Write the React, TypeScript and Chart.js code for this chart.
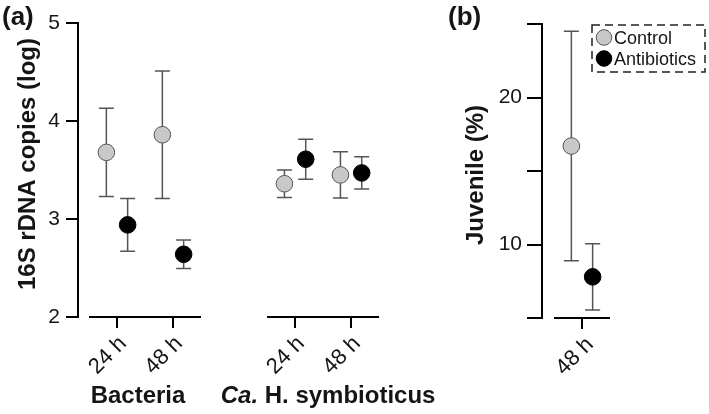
import React, { useEffect, useRef } from 'react';
import { Chart, registerables } from 'chart.js';

Chart.register(...registerables);

const FONT = "'Liberation Sans', Arial, Helvetica, sans-serif";

// ---------- data: panel (a) ----------
const groupNames = ['Bacteria', 'Ca. H. symbioticus'];
const timeLabels = ['24 h', '48 h'];
const yTicksA = [2, 3, 4, 5];
// order: Bacteria 24 h, Bacteria 48 h, Ca. 24 h, Ca. 48 h
const controlMean = [3.68, 3.86, 3.36, 3.45];
const controlErr = [0.45, 0.65, 0.14, 0.235];
const antibioticMean = [2.94, 2.64, 3.61, 3.47];
const antibioticErr = [0.27, 0.145, 0.205, 0.165];

// ---------- data: panel (b) ----------
const juvenileTimes = ['48 h'];
const juvenileControlMean = [16.7];
const juvenileControlErr = [7.8];
const juvenileAntibioticMean = [7.8];
const juvenileAntibioticErr = [2.25];
const yTicksB = [5, 10, 15, 20, 25];
const yTickLabelsB = ['', '10', '', '20', ''];

const seriesNames = ['Control', 'Antibiotics'];

// ---------- layout constants ----------
const W = 709;
const H = 414;
const B_LEFT = 440;
const GROUP_STEP = 3.18; // distance between first items of consecutive groups (x units)
const DODGE = 0.19;
const PX_PER_UNIT = 56;

const CONTROL_FILL = '#c8c8c8';
const CONTROL_EDGE = '#555555';
const ANTI_FILL = '#000000';
const ERR_COLOR = '#555555';
const TEXT = '#151515';

const posA = (i: number) => Math.floor(i / timeLabels.length) * GROUP_STEP + (i % timeLabels.length) + 1;
const posB = (i: number) => i + 1;

const errorBarPlugin = {
  id: 'errorBars',
  beforeDatasetsDraw(chart: any) {
    const ctx = chart.ctx;
    const ys = chart.scales.y;
    ctx.save();
    ctx.strokeStyle = ERR_COLOR;
    ctx.lineWidth = 1.5;
    chart.data.datasets.forEach((ds: any, di: number) => {
      const meta = chart.getDatasetMeta(di);
      meta.data.forEach((pt: any, i: number) => {
        const v = ds.data[i].y;
        const e = ds.errors[i];
        const x = pt.x;
        const yt = ys.getPixelForValue(v + e);
        const yb = ys.getPixelForValue(v - e);
        ctx.beginPath();
        ctx.moveTo(x, yt);
        ctx.lineTo(x, yb);
        ctx.moveTo(x - 7.5, yt);
        ctx.lineTo(x + 7.5, yt);
        ctx.moveTo(x - 7.5, yb);
        ctx.lineTo(x + 7.5, yb);
        ctx.stroke();
      });
    });
    ctx.restore();
  },
};

function segmentPlugin(segments: () => [number, number][]) {
  return {
    id: 'segments',
    afterDraw(chart: any) {
      const ctx = chart.ctx;
      const xs = chart.scales.x;
      const yb = chart.chartArea.bottom;
      ctx.save();
      ctx.strokeStyle = '#000';
      ctx.lineWidth = 2;
      segments().forEach(([a, b]) => {
        ctx.beginPath();
        ctx.moveTo(xs.getPixelForValue(a), yb);
        ctx.lineTo(xs.getPixelForValue(b), yb);
        ctx.stroke();
      });
      ctx.restore();
    },
  };
}

const textPluginA = {
  id: 'textA',
  afterDraw(chart: any) {
    const ctx = chart.ctx;
    const xs = chart.scales.x;
    ctx.save();
    ctx.fillStyle = TEXT;
    ctx.textBaseline = 'alphabetic';
    ctx.textAlign = 'left';
    ctx.font = `bold 26px ${FONT}`;
    ctx.fillText('(a)', 2, 25);

    ctx.save();
    ctx.translate(35, 164);
    ctx.rotate(-Math.PI / 2);
    ctx.textAlign = 'center';
    ctx.font = `bold 24px ${FONT}`;
    ctx.fillText('16S rDNA copies (log)', 0, 0);
    ctx.restore();

    const nudges = [-7, 5];
    groupNames.forEach((name, g) => {
      const first = g * GROUP_STEP + 1;
      const last = first + timeLabels.length - 1;
      const cx = (xs.getPixelForValue(first - 0.5) + xs.getPixelForValue(last + 0.5)) / 2 + nudges[g];
      let parts: { t: string; italic: boolean }[];
      if (name.startsWith('Ca. ')) {
        parts = [
          { t: 'Ca.', italic: true },
          { t: name.slice(3), italic: false },
        ];
      } else {
        parts = [{ t: name, italic: false }];
      }
      let total = 0;
      const widths = parts.map((p) => {
        ctx.font = `${p.italic ? 'italic ' : ''}bold 24px ${FONT}`;
        const w = ctx.measureText(p.t).width;
        total += w;
        return w;
      });
      let x = cx - total / 2;
      ctx.textAlign = 'left';
      parts.forEach((p, k) => {
        ctx.font = `${p.italic ? 'italic ' : ''}bold 24px ${FONT}`;
        ctx.fillText(p.t, x, 403);
        x += widths[k];
      });
    });
    ctx.restore();
  },
};

const textPluginB = {
  id: 'textB',
  afterDraw(chart: any) {
    const ctx = chart.ctx;
    ctx.save();
    ctx.fillStyle = TEXT;
    ctx.textBaseline = 'alphabetic';
    ctx.textAlign = 'left';
    ctx.font = `bold 26px ${FONT}`;
    ctx.fillText('(b)', 8, 25);

    ctx.save();
    ctx.translate(43, 175);
    ctx.rotate(-Math.PI / 2);
    ctx.textAlign = 'center';
    ctx.font = `bold 24px ${FONT}`;
    ctx.fillText('Juvenile (%)', 0, 0);
    ctx.restore();

    // legend
    const bx = 152, by = 25, bw = 113, bh = 47;
    ctx.strokeStyle = '#222';
    ctx.lineWidth = 1.5;
    ctx.setLineDash([8, 5]);
    ctx.strokeRect(bx, by, bw, bh);
    ctx.setLineDash([]);
    const fills = [CONTROL_FILL, ANTI_FILL];
    const edges = [CONTROL_EDGE, ANTI_FILL];
    ctx.font = `18px ${FONT}`;
    seriesNames.forEach((s, k) => {
      const cy = 37.5 + k * 21;
      ctx.beginPath();
      ctx.arc(164, cy, 7.8, 0, Math.PI * 2);
      ctx.fillStyle = fills[k];
      ctx.fill();
      ctx.lineWidth = 1;
      ctx.strokeStyle = edges[k];
      ctx.stroke();
      ctx.fillStyle = TEXT;
      ctx.fillText(s, 174, cy + 6.5);
    });
    ctx.restore();
  },
};

function pointDataset(label: string, means: number[], errs: number[], pos: (i: number) => number, dx: number, fill: string, edge: string) {
  return {
    label,
    data: means.map((m, i) => ({ x: pos(i) + dx, y: m })),
    errors: errs,
    backgroundColor: fill,
    borderColor: edge,
    borderWidth: 1,
    pointRadius: 8.3,
    pointHoverRadius: 8.3,
    showLine: false,
  } as any;
}

export default function App() {
  const refA = useRef<HTMLCanvasElement>(null);
  const refB = useRef<HTMLCanvasElement>(null);

  useEffect(() => {
    // ---------- panel (a) ----------
    const areaLeftA = 78;
    const areaRightA = 379;
    const minA = 1 - (117 - areaLeftA) / PX_PER_UNIT;
    const maxA = minA + (areaRightA - areaLeftA) / PX_PER_UNIT;
    const tickPosA = controlMean.map((_, i) => posA(i));
    const tickTextA = controlMean.map((_, i) => timeLabels[i % timeLabels.length]);

    const chartA = new Chart(refA.current as HTMLCanvasElement, {
      type: 'scatter',
      data: {
        datasets: [
          pointDataset(seriesNames[0], controlMean, controlErr, posA, -DODGE, CONTROL_FILL, CONTROL_EDGE),
          pointDataset(seriesNames[1], antibioticMean, antibioticErr, posA, DODGE, ANTI_FILL, ANTI_FILL),
        ],
      },
      options: {
        animation: false,
        responsive: false,
        devicePixelRatio: 1,
        events: [],
        layout: { padding: { left: 0, top: 23, right: B_LEFT - areaRightA, bottom: 0 } },
        plugins: { legend: { display: false }, tooltip: { enabled: false } },
        scales: {
          x: {
            type: 'linear',
            min: minA,
            max: maxA,
            afterBuildTicks: (s: any) => {
              s.ticks = tickPosA.map((v) => ({ value: v }));
            },
            afterFit: (s: any) => {
              s.height = 97;
            },
            ticks: {
              autoSkip: false,
              maxRotation: 45,
              minRotation: 45,
              padding: 3,
              labelOffset: 6,
              color: TEXT,
              font: { family: FONT, size: 22 },
              callback: (_v: any, i: number) => tickTextA[i],
            },
            grid: { display: true, drawOnChartArea: false, drawTicks: true, tickLength: 11, color: '#000', lineWidth: 2 },
            border: { display: false },
          },
          y: {
            type: 'linear',
            min: yTicksA[0],
            max: yTicksA[yTicksA.length - 1],
            afterBuildTicks: (s: any) => {
              s.ticks = yTicksA.map((v) => ({ value: v }));
            },
            afterFit: (s: any) => {
              s.width = areaLeftA;
            },
            ticks: {
              padding: 6,
              color: TEXT,
              font: { family: FONT, size: 21 },
              callback: (v: any) => String(v),
            },
            grid: { display: true, drawOnChartArea: false, drawTicks: true, tickLength: 12, color: '#000', lineWidth: 2 },
            border: { display: true, color: '#000', width: 2 },
          },
        },
      } as any,
      plugins: [
        errorBarPlugin,
        segmentPlugin(() =>
          groupNames.map((_, g) => {
            const first = g * GROUP_STEP + 1;
            return [first - 0.5, first + timeLabels.length - 1 + 0.5] as [number, number];
          })
        ),
        textPluginA,
      ],
    });

    // ---------- panel (b) ----------
    const wB = W - B_LEFT;
    const areaLeftB = 542 - B_LEFT;
    const areaRightB = 610 - B_LEFT;
    const maxB = 1.5;
    const minB = maxB - (areaRightB - areaLeftB) / PX_PER_UNIT;
    const tickPosB = juvenileTimes.map((_, i) => posB(i));

    const chartB = new Chart(refB.current as HTMLCanvasElement, {
      type: 'scatter',
      data: {
        datasets: [
          pointDataset(seriesNames[0], juvenileControlMean, juvenileControlErr, posB, -DODGE, CONTROL_FILL, CONTROL_EDGE),
          pointDataset(seriesNames[1], juvenileAntibioticMean, juvenileAntibioticErr, posB, DODGE, ANTI_FILL, ANTI_FILL),
        ],
      },
      options: {
        animation: false,
        responsive: false,
        devicePixelRatio: 1,
        events: [],
        layout: { padding: { left: 0, top: 24, right: wB - areaRightB, bottom: 0 } },
        plugins: { legend: { display: false }, tooltip: { enabled: false } },
        scales: {
          x: {
            type: 'linear',
            min: minB,
            max: maxB,
            afterBuildTicks: (s: any) => {
              s.ticks = tickPosB.map((v) => ({ value: v }));
            },
            afterFit: (s: any) => {
              s.height = 96;
            },
            ticks: {
              autoSkip: false,
              maxRotation: 45,
              minRotation: 45,
              padding: 3,
              labelOffset: 8,
              color: TEXT,
              font: { family: FONT, size: 22 },
              callback: (_v: any, i: number) => juvenileTimes[i],
            },
            grid: { display: true, drawOnChartArea: false, drawTicks: true, tickLength: 11, color: '#000', lineWidth: 2 },
            border: { display: false },
          },
          y: {
            type: 'linear',
            min: yTicksB[0],
            max: yTicksB[yTicksB.length - 1],
            afterBuildTicks: (s: any) => {
              s.ticks = yTicksB.map((v) => ({ value: v }));
            },
            afterFit: (s: any) => {
              s.width = areaLeftB;
            },
            ticks: {
              padding: 5,
              color: TEXT,
              font: { family: FONT, size: 21 },
              callback: (_v: any, i: number) => yTickLabelsB[i],
            },
            grid: { display: true, drawOnChartArea: false, drawTicks: true, tickLength: 15, color: '#000', lineWidth: 2 },
            border: { display: true, color: '#000', width: 2 },
          },
        },
      } as any,
      plugins: [
        errorBarPlugin,
        segmentPlugin(() => juvenileTimes.map((_, i) => [posB(i) - 0.5, posB(i) + 0.5] as [number, number])),
        textPluginB,
      ],
    });

    return () => {
      chartA.destroy();
      chartB.destroy();
    };
  }, []);

  return (
    <div style={{ position: 'absolute', left: 0, top: 0, width: W, height: H, background: '#fff' }}>
      <canvas ref={refA} width={B_LEFT} height={H} style={{ position: 'absolute', left: 0, top: 0, width: B_LEFT, height: H }} />
      <canvas
        ref={refB}
        width={W - B_LEFT}
        height={H}
        style={{ position: 'absolute', left: B_LEFT, top: 0, width: W - B_LEFT, height: H }}
      />
    </div>
  );
}
